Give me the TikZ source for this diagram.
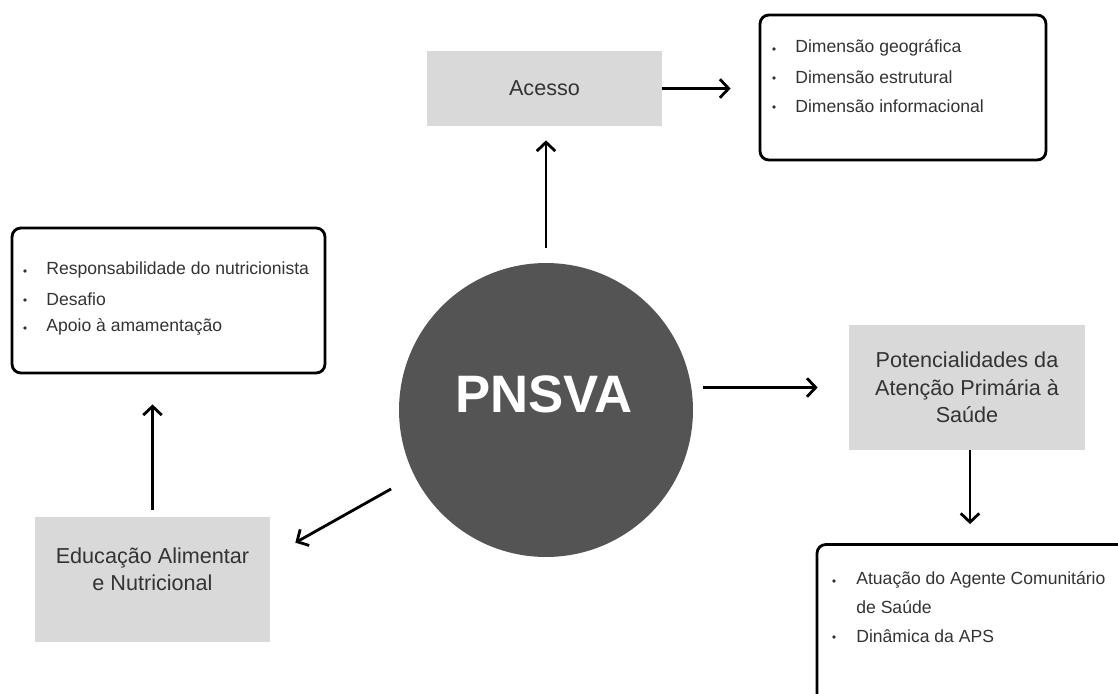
\documentclass[tikz,border=0pt]{standalone}
\usepackage{fontspec}
\setmainfont{Liberation Sans}
\usetikzlibrary{arrows.meta,calc}
\definecolor{boxgray}{HTML}{D9D9D9}
\definecolor{hubgray}{HTML}{545454}
\definecolor{ink}{HTML}{333333}
\begin{document}
\begin{tikzpicture}[x=0.02cm,y=-0.02cm,
  graybox/.style={fill=boxgray, draw=none, align=center, text=ink,
    font=\fontsize{12.3}{15.5}\selectfont, inner sep=0},
  listbox/.style={draw=black, line width=1.6pt, rounded corners=5pt, fill=white, inner sep=0},
  item/.style={anchor=west, text=ink, font=\fontsize{10}{13}\selectfont, inner sep=0},
  dot/.style={circle, fill=ink, draw=none, minimum size=0.075cm, inner sep=0},
  link/.style={line width=1.6pt, -{Straight Barb[length=5pt,width=10.5pt]}}]
\useasboundingbox (0,0) rectangle (1118,693);
\fill[white] (0,0) rectangle (1118,693);
\clip (0,0) rectangle (1118,693);

% central hub
\node[circle, fill=hubgray, minimum size=5.88cm, inner sep=0] (hub) at (546,410) {};
\node[text=white, font=\fontsize{30}{36}\selectfont\bfseries, inner sep=0] (title) at (544,394) {PNSVA};

% grey topic boxes
\node[graybox, minimum width=4.7cm, minimum height=1.5cm] (acesso) at (544.5,88.5) {Acesso};
\node[graybox, minimum width=4.72cm, minimum height=2.5cm] (pot) at (967,387.5)
  {Potencialidades da\\Atenção Primária à\\Saúde};
\node[graybox, minimum width=4.7cm, minimum height=2.5cm] (edu) at (152.5,579.5) {};
\node[graybox, fill=none, anchor=center] (edutext) at (152.5,569) {Educação Alimentar\\e Nutricional};

% framed lists
\node[listbox, minimum width=5.72cm, minimum height=2.9cm] (dims) at (903,87.5) {};
\node[dot] (d1b) at (774,49) {};
\node[item] (d1) at (795,48) {Dimensão geográfica};
\node[dot] (d2b) at (774,78) {};
\node[item] (d2) at (795,77) {Dimensão estrutural};
\node[dot] (d3b) at (774,107) {};
\node[item] (d3) at (795,106) {Dimensão informacional};

\node[listbox, minimum width=6.26cm, minimum height=2.9cm] (nutri) at (168.5,300.5) {};
\node[dot] (n1b) at (25,271) {};
\node[item] (n1) at (46,270) {Responsabilidade do nutricionista};
\node[dot] (n2b) at (25,300) {};
\node[item] (n2) at (46,299) {Desafio};
\node[dot] (n3b) at (25,328) {};
\node[item] (n3) at (46,327) {Apoio à amamentação};

\node[listbox, minimum width=6.36cm, minimum height=3.5cm] (aps) at (976,632) {};
\node[dot] (a1b) at (834,581) {};
\node[item] (a1) at (856,580) {Atuação do Agente Comunitário};
\node[item] (a1c) at (856,607) {de Saúde};
\node[dot] (a2b) at (834,637) {};
\node[item] (a2) at (856,636) {Dinâmica da APS};

% connectors
\draw[link] ([yshift=0.3cm]hub.north) -- ([yshift=-0.28cm]hub.north |- acesso.south);
\draw[link] (acesso.east) -- ([xshift=-0.56cm]acesso.east -| dims.west);
\draw[link] ([xshift=0.2cm]hub.east |- pot.west) -- ([xshift=-0.62cm]pot.west);
\draw[link] ([xshift=0.06cm]pot.south) -- ([xshift=0.06cm,yshift=0.38cm]pot.south |- aps.north);
\draw[link] ($(hub.center)!1.18!(hub.207.5)$) -- ($(edu.north east)+(25,26)$);
\draw[link] ([yshift=0.14cm]edu.north) -- ([yshift=-0.6cm]edu.north |- nutri.south);
\end{tikzpicture}
\end{document}
